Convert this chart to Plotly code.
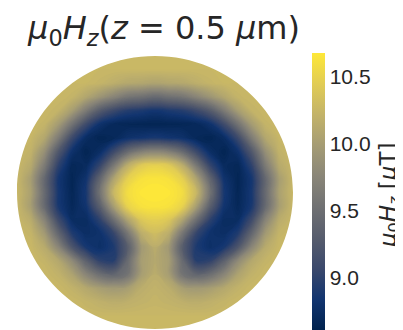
import plotly.graph_objects as go

# grid coordinates (normalised disk coordinates, disk radius = 1)
x_coords = [-1.0, -0.9, -0.8, -0.7, -0.6, -0.5, -0.4, -0.3, -0.2, -0.1, 0.0,
            0.1, 0.2, 0.3, 0.4, 0.5, 0.6, 0.7, 0.8, 0.9, 1.0]
y_coords = [1.0, 0.9, 0.8, 0.7, 0.6, 0.5, 0.4, 0.3, 0.2, 0.1, 0.0,
            -0.1, -0.2, -0.3, -0.4, -0.5, -0.6, -0.7, -0.8, -0.9, -1.0]

# mu0 Hz [uT], one row per y (top to bottom)
hz_rows = [
    [10.25, 10.25, 10.25, 10.25, 10.25, 10.25, 10.25, 10.25, 10.25, 10.25, 10.25, 10.25, 10.25, 10.25, 10.25, 10.25, 10.25, 10.25, 10.25, 10.25, 10.25],
    [10.25, 10.25, 10.25, 10.25, 10.25, 10.25, 10.25, 10.25, 10.25, 10.25, 10.25, 10.25, 10.25, 10.25, 10.25, 10.25, 10.25, 10.25, 10.25, 10.25, 10.25],
    [10.25, 10.25, 10.25, 10.25, 10.25, 10.25, 10.22, 10.16, 10.10, 10.08, 10.05, 10.08, 10.10, 10.16, 10.22, 10.25, 10.25, 10.25, 10.25, 10.25, 10.25],
    [10.25, 10.25, 10.25, 10.25, 10.22, 10.08, 9.91, 9.74, 9.58, 9.52, 9.45, 9.52, 9.58, 9.74, 9.91, 10.08, 10.22, 10.25, 10.25, 10.25, 10.25],
    [10.25, 10.25, 10.25, 10.21, 10.00, 9.64, 9.29, 9.08, 8.95, 8.90, 8.85, 8.90, 8.95, 9.08, 9.29, 9.64, 10.00, 10.21, 10.25, 10.25, 10.25],
    [10.25, 10.25, 10.22, 9.98, 9.55, 9.10, 8.81, 8.70, 8.67, 8.66, 8.65, 8.66, 8.67, 8.70, 8.81, 9.10, 9.55, 9.98, 10.22, 10.25, 10.25],
    [10.25, 10.24, 10.09, 9.65, 9.08, 8.75, 8.65, 8.69, 8.80, 8.84, 8.88, 8.84, 8.80, 8.69, 8.65, 8.75, 9.08, 9.65, 10.09, 10.24, 10.25],
    [10.25, 10.20, 9.86, 9.25, 8.81, 8.65, 8.76, 9.08, 9.45, 9.68, 9.75, 9.68, 9.45, 9.08, 8.76, 8.65, 8.81, 9.25, 9.86, 10.20, 10.25],
    [10.25, 10.12, 9.64, 9.00, 8.68, 8.72, 9.03, 9.60, 10.15, 10.42, 10.48, 10.42, 10.15, 9.60, 9.03, 8.72, 8.68, 9.00, 9.64, 10.12, 10.25],
    [10.25, 10.00, 9.43, 8.86, 8.66, 8.82, 9.40, 10.05, 10.47, 10.61, 10.64, 10.61, 10.47, 10.05, 9.40, 8.82, 8.66, 8.86, 9.43, 10.00, 10.25],
    [10.25, 10.03, 9.45, 8.87, 8.67, 8.87, 9.55, 10.25, 10.58, 10.66, 10.67, 10.66, 10.58, 10.25, 9.55, 8.87, 8.67, 8.87, 9.45, 10.03, 10.25],
    [10.25, 10.00, 9.45, 8.88, 8.69, 8.83, 9.33, 10.00, 10.50, 10.62, 10.64, 10.62, 10.50, 10.00, 9.33, 8.83, 8.69, 8.88, 9.45, 10.00, 10.25],
    [10.25, 10.14, 9.73, 9.10, 8.75, 8.74, 8.99, 9.50, 10.05, 10.40, 10.46, 10.40, 10.05, 9.50, 8.99, 8.74, 8.75, 9.10, 9.73, 10.14, 10.25],
    [10.25, 10.22, 9.96, 9.41, 8.92, 8.76, 8.80, 9.03, 9.58, 10.15, 10.30, 10.15, 9.58, 9.03, 8.80, 8.76, 8.92, 9.41, 9.96, 10.22, 10.25],
    [10.25, 10.25, 10.13, 9.76, 9.22, 8.87, 8.78, 8.90, 9.30, 9.95, 10.15, 9.95, 9.30, 8.90, 8.78, 8.87, 9.22, 9.76, 10.13, 10.25, 10.25],
    [10.25, 10.25, 10.22, 10.10, 9.80, 9.35, 9.00, 8.95, 9.45, 10.00, 10.10, 10.00, 9.45, 8.95, 9.00, 9.35, 9.80, 10.10, 10.22, 10.25, 10.25],
    [10.25, 10.25, 10.25, 10.20, 10.05, 9.75, 9.50, 9.40, 9.55, 10.00, 10.15, 10.00, 9.55, 9.40, 9.50, 9.75, 10.05, 10.20, 10.25, 10.25, 10.25],
    [10.25, 10.25, 10.25, 10.25, 10.20, 10.10, 10.00, 9.95, 10.00, 10.15, 10.20, 10.15, 10.00, 9.95, 10.00, 10.10, 10.20, 10.25, 10.25, 10.25, 10.25],
    [10.25, 10.25, 10.25, 10.25, 10.25, 10.22, 10.18, 10.15, 10.17, 10.20, 10.22, 10.20, 10.17, 10.15, 10.18, 10.22, 10.25, 10.25, 10.25, 10.25, 10.25],
    [10.25, 10.25, 10.25, 10.25, 10.25, 10.25, 10.25, 10.25, 10.25, 10.25, 10.25, 10.25, 10.25, 10.25, 10.25, 10.25, 10.25, 10.25, 10.25, 10.25, 10.25],
    [10.25, 10.25, 10.25, 10.25, 10.25, 10.25, 10.25, 10.25, 10.25, 10.25, 10.25, 10.25, 10.25, 10.25, 10.25, 10.25, 10.25, 10.25, 10.25, 10.25, 10.25],
]

color_min = 8.61
color_max = 10.68
tick_values = [9.0, 9.5, 10.0, 10.5]

cividis = [
    [0.0, "rgb(0,34,78)"], [0.111, "rgb(18,53,112)"], [0.222, "rgb(59,73,108)"],
    [0.333, "rgb(87,93,109)"], [0.444, "rgb(112,113,115)"], [0.556, "rgb(138,134,120)"],
    [0.667, "rgb(165,156,116)"], [0.778, "rgb(195,179,105)"], [0.889, "rgb(225,204,85)"],
    [1.0, "rgb(254,232,56)"],
]

x_vals = x_coords
y_vals = y_coords[::-1]
z_vals = hz_rows[::-1]

fig = go.Figure()
# heatmap underneath provides the continuous colour bar
fig.add_trace(go.Heatmap(
    x=x_vals, y=y_vals, z=z_vals,
    zsmooth="best",
    colorscale=cividis,
    zmin=color_min,
    zmax=color_max,
    hoverinfo="skip",
    colorbar=dict(
        thickness=13,
        lenmode="pixels",
        len=277,
        x=1.069,
        xanchor="left",
        xpad=0,
        y=1.011,
        yanchor="top",
        ypad=0,
        outlinewidth=0,
        tickvals=tick_values,
        tickformat=".1f",
        ticks="",
        tickfont=dict(family="Liberation Sans, Arial, sans-serif", size=21, color="#262626"),
    ),
))
# finely levelled, smoothed filled contours give a smooth field
fig.add_trace(go.Contour(
    x=x_vals, y=y_vals, z=z_vals,
    colorscale=cividis,
    zmin=color_min,
    zmax=color_max,
    autocontour=False,
    contours=dict(coloring="fill", start=color_min, end=color_max, size=0.02, showlines=False),
    line=dict(width=0, smoothing=1.3),
    showscale=False,
    hoverinfo="skip",
))

k = 0.5523
mask_path = (
    "M -1.05,-1.05 L 1.05,-1.05 L 1.05,1.05 L -1.05,1.05 Z "
    f"M 1,0 C 1,{k} {k},1 0,1 C {-k},1 -1,{k} -1,0 "
    f"C -1,{-k} {-k},-1 0,-1 C {k},-1 1,{-k} 1,0 Z"
)
fig.add_shape(type="path", path=mask_path, xref="x", yref="y",
              fillcolor="white", fillrule="evenodd", line=dict(width=0), layer="above")

fig.add_annotation(
    text="<i>μ</i><sub>0</sub><i>H</i><sub><i>z</i></sub> [<i>μ</i>T]",
    xref="paper", yref="paper",
    x=1.351, y=0.49,
    xanchor="center", yanchor="middle",
    textangle=-90,
    showarrow=False,
    borderpad=0,
    font=dict(family="DejaVu Sans", size=23, color="#262626"),
)

fig.update_layout(
    width=395,
    height=322,
    margin=dict(l=9, r=110, t=48, b=1, autoexpand=False),
    paper_bgcolor="white",
    plot_bgcolor="white",
    xaxis=dict(visible=False, range=[-1, 1], fixedrange=True),
    yaxis=dict(visible=False, range=[-1, 1], fixedrange=True),
    title=dict(
        text="<i>μ</i><sub>0</sub><i>H</i><sub><i>z</i></sub>(<i>z</i> = 0.5 <i>μ</i>m)",
        x=0.395,
        xanchor="center",
        xref="container",
        y=0.938,
        yanchor="middle",
        yref="container",
        font=dict(family="DejaVu Sans", size=32, color="#262626"),
    ),
    showlegend=False,
)

fig.write_html("out.html")
